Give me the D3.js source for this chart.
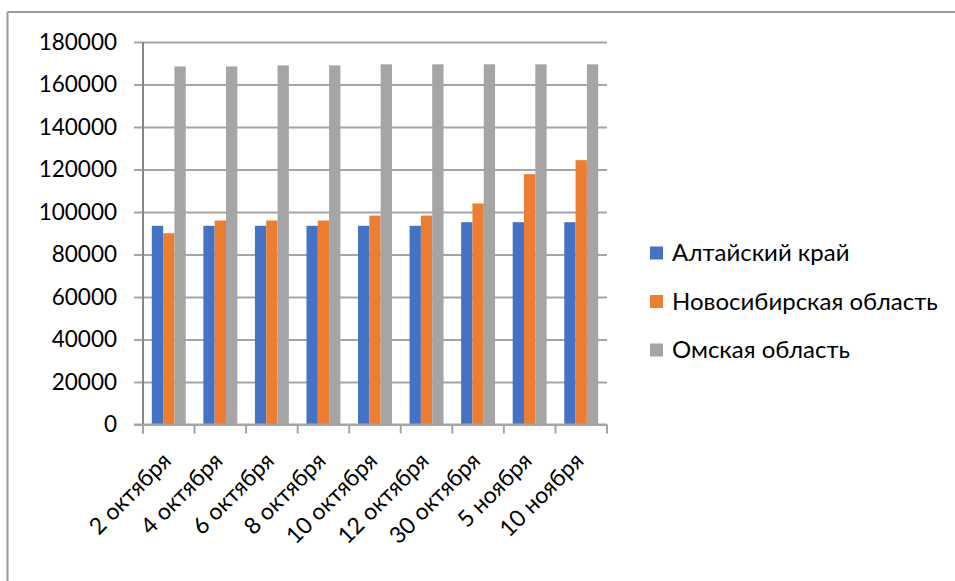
<!DOCTYPE html>
<html>
<head>
<meta charset="utf-8">
<script src="https://cdn.jsdelivr.net/npm/d3@7"></script>
<style>
  html, body { margin: 0; padding: 0; background: #fff; }
  svg { display: block; }
  text { font-family: Lato, "Noto Sans", sans-serif; fill: #000; }
</style>
</head>
<body>
<svg id="chart" width="955" height="581"></svg>
<script>
// Population by date for three regions
const categories = ["2 октября", "4 октября", "6 октября", "8 октября", "10 октября",
                    "12 октября", "30 октября", "5 ноября", "10 ноября"];
const seriesNames = ["Алтайский край", "Новосибирская область", "Омская область"];
const altai       = [93500, 93500, 93500, 93500, 93500, 93500, 95200, 95200, 95200];
const novosibirsk = [90000, 96000, 96000, 96000, 98300, 98300, 104000, 117800, 124400];
const omsk        = [168500, 168500, 169000, 169000, 169500, 169500, 169500, 169500, 169500];
const yTicks = [0, 20000, 40000, 60000, 80000, 100000, 120000, 140000, 160000, 180000];
const colors = ["#4472C4", "#ED7D31", "#A5A5A5"];

const seriesValues = [altai, novosibirsk, omsk];
const rows = categories.map((c, i) => ({ cat: c, vals: seriesValues.map(s => s[i]) }));

const svg = d3.select("#chart");

// outer frame (top and left edges visible)
svg.append("line").attr("x1", 7.5).attr("x2", 955).attr("y1", 12).attr("y2", 12)
  .attr("stroke", "#9a9a9a").attr("stroke-width", 2);
svg.append("line").attr("x1", 7.5).attr("x2", 7.5).attr("y1", 12).attr("y2", 581)
  .attr("stroke", "#9a9a9a").attr("stroke-width", 2);

const plot = { left: 143, right: 607, top: 42, bottom: 424.5 };

const x = d3.scaleBand().domain(categories).range([plot.left, plot.right]).paddingInner(0).paddingOuter(0);
const inner = d3.scaleBand().domain(d3.range(3)).range([0, x.bandwidth()]).paddingInner(0).paddingOuter(0.78);
const y = d3.scaleLinear().domain([0, 180000]).range([plot.bottom, plot.top]);

// horizontal gridlines with left tick marks
const yAxis = d3.axisLeft(y).tickValues(yTicks).tickSize(-(plot.right - plot.left)).tickPadding(26)
  .tickFormat(d3.format("d"));
const gy = svg.append("g").attr("transform", `translate(${plot.left},0)`).call(yAxis);
gy.select(".domain").remove();
gy.selectAll(".tick line").attr("stroke", "#a6a6a6").attr("stroke-width", 2)
  .attr("x1", -9);
gy.selectAll(".tick text").attr("font-size", "22.5px").attr("fill", "#000");

// bars
const groups = svg.append("g").selectAll("g").data(rows).join("g")
  .attr("transform", d => `translate(${x(d.cat)},0)`);
groups.selectAll("rect").data(d => d.vals.map((v, k) => ({ v, k }))).join("rect")
  .attr("x", d => inner(d.k))
  .attr("width", inner.bandwidth())
  .attr("y", d => y(d.v))
  .attr("height", d => y(0) - y(d.v))
  .attr("fill", d => colors[d.k]);

// vertical axis line
svg.append("line").attr("x1", plot.left).attr("x2", plot.left)
  .attr("y1", plot.top).attr("y2", plot.bottom + 9)
  .attr("stroke", "#868686").attr("stroke-width", 2);

// category axis
const xAxis = d3.axisBottom(x).tickSize(0).tickFormat("");
const gx = svg.append("g").attr("transform", `translate(0,${plot.bottom})`).call(xAxis);
gx.select(".domain").remove();
svg.append("line").attr("x1", plot.left - 9).attr("x2", plot.right)
  .attr("y1", plot.bottom).attr("y2", plot.bottom)
  .attr("stroke", "#a6a6a6").attr("stroke-width", 2);
const boundaries = d3.range(categories.length + 1).map(i => plot.left + i * x.step());
svg.append("g").selectAll("line").data(boundaries).join("line")
  .attr("x1", d => d).attr("x2", d => d)
  .attr("y1", plot.bottom).attr("y2", plot.bottom + 9)
  .attr("stroke", "#a6a6a6").attr("stroke-width", 2);

svg.append("g").selectAll("text").data(categories).join("text")
  .attr("text-anchor", "end")
  .attr("font-size", "23px")
  .attr("transform", d => `translate(${x(d) + x.bandwidth() / 2 - 2},${plot.bottom + 32}) rotate(-45)`)
  .attr("dy", "0.35em")
  .text(d => d);

// legend
const legend = svg.append("g").selectAll("g").data(seriesNames).join("g")
  .attr("transform", (d, i) => `translate(650,${253 + i * 48.5})`);
legend.append("rect").attr("x", 0).attr("y", -6.5).attr("width", 13).attr("height", 13)
  .attr("fill", (d, i) => colors[i]);
legend.append("text").attr("x", 22).attr("dy", "0.35em").attr("font-size", "24px").text(d => d);
</script>
</body>
</html>
